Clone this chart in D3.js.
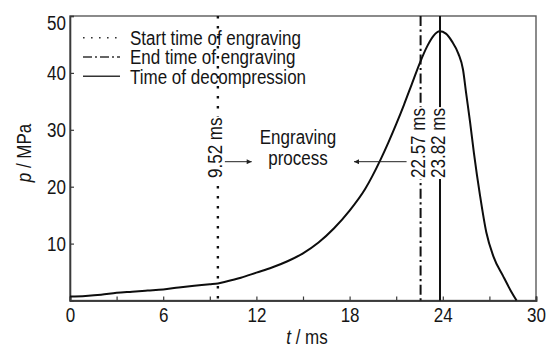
<!DOCTYPE html>
<html><head><meta charset="utf-8">
<script src="https://cdn.jsdelivr.net/npm/d3@7"></script>
<style>
body{margin:0;background:#fff}
svg text{font-family:"Liberation Sans",Arial,Helvetica,sans-serif;font-size:20px;fill:#151515}
</style></head><body>
<svg id="chart" width="547" height="347"></svg>
<script>
// Chamber pressure history p(t) during engraving of the projectile
const timeMs = [0, 1, 2, 3, 4, 5, 6, 7, 8, 9, 9.52, 10, 11, 12, 13, 14, 15, 16, 17, 18, 19, 20, 20.5, 21, 21.5, 22, 22.5, 23, 23.4, 23.8, 24.2, 24.6, 25, 25.3, 25.5, 25.75, 26, 26.4, 26.8, 27.25, 27.9, 28.4, 28.75];
const pressureMPa = [0.7, 0.8, 1.0, 1.35, 1.55, 1.75, 1.95, 2.3, 2.6, 2.85, 3.0, 3.3, 4.0, 4.9, 5.8, 6.9, 8.3, 10.2, 12.7, 15.8, 19.6, 24.8, 27.8, 31.0, 34.4, 38.0, 41.6, 44.7, 46.5, 47.3, 46.9, 45.5, 43.4, 40.6, 36.5, 31.5, 26.0, 18.4, 12.0, 7.8, 4.2, 1.6, 0.0];

const xTicks = [0, 6, 12, 18, 24, 30];
const xMinorTicks = [3, 9, 15, 21, 27];
const yTicks = [10, 20, 30, 40, 50];

const eventTimes = [9.52, 22.57, 23.82];
const eventNames = ["Start time of engraving", "End time of engraving", "Time of decompression"];
const eventLabels = ["9.52 ms", "22.57 ms", "23.82 ms"];
const eventDash = ["2.4 7.6", "10 3.5 2.2 3.5", null];

// condensed lettering: squeeze each text run to a narrow width
const NARROW = 0.85;
function squeeze(sel) {
  sel.each(function () {
    const w = this.getComputedTextLength();
    d3.select(this).attr("textLength", w * NARROW).attr("lengthAdjust", "spacingAndGlyphs");
  });
}

const svg = d3.select("#chart");
const x = d3.scaleLinear().domain([0, 30]).range([70, 536]);
const y = d3.scaleLinear().domain([0, 50]).range([300.5, 16]);

// plot frame
svg.append("rect")
  .attr("x", x(0)).attr("y", y(50))
  .attr("width", x(30) - x(0)).attr("height", y(0) - y(50))
  .attr("fill", "none").attr("stroke", "#5a5a5a").attr("stroke-width", 1.4);

// axes, ticks pointing inward
const xAxis = svg.append("g").attr("transform", `translate(0,${y(0)})`)
  .call(d3.axisBottom(x).tickValues(xTicks).tickSize(-4).tickPadding(7).tickFormat(d3.format("d")));
svg.append("g").attr("transform", `translate(0,${y(0)})`)
  .call(d3.axisBottom(x).tickValues(xMinorTicks).tickSize(-4).tickFormat(""));
const yAxis = svg.append("g").attr("transform", `translate(${x(0)},0)`)
  .call(d3.axisLeft(y).tickValues(yTicks).tickSize(-4).tickPadding(4).tickFormat(d3.format("d")));
svg.selectAll(".domain").attr("stroke", "#3a3a3a").attr("stroke-width", 1.6);
svg.selectAll(".tick line").attr("stroke", "#3a3a3a").attr("stroke-width", 1.2);
svg.selectAll(".tick text").style("font-size", "20px").attr("fill", "#151515");
xAxis.selectAll(".tick text").attr("dy", "0.71em");
// the top label sits just below the frame edge
yAxis.selectAll(".tick text").filter(d => d === 50).attr("dy", "0.66em");
squeeze(svg.selectAll(".tick text"));

// event markers
const events = eventTimes.map((t, i) => ({t, name: eventNames[i], label: eventLabels[i], dash: eventDash[i]}));
const ev = svg.append("g").selectAll("g").data(events).join("g");
ev.append("line")
  .attr("x1", d => x(d.t)).attr("x2", d => x(d.t))
  .attr("y1", y(50)).attr("y2", y(0))
  .attr("stroke", "#111").attr("stroke-width", d => d.dash === eventDash[0] ? 2.4 : 2)
  .attr("stroke-dasharray", d => d.dash);
const lblText = ev.append("text")
  .attr("transform", d => `translate(${x(d.t) + 4.5},178) rotate(-90)`)
  .text(d => d.label);
squeeze(lblText);
lblText.each(function () {
  const b = this.getBBox();
  d3.select(this.parentNode).insert("rect", "text")
    .attr("transform", d3.select(this).attr("transform"))
    .attr("x", b.x - 1).attr("y", b.y + 1)
    .attr("width", b.width + 2).attr("height", b.height - 3)
    .attr("fill", "#fff");
});

// pressure curve
const pts = timeMs.map((t, i) => [t, pressureMPa[i]]);
svg.append("path")
  .attr("d", d3.line().x(d => x(d[0])).y(d => y(d[1])).curve(d3.curveMonotoneX)(pts))
  .attr("fill", "none").attr("stroke", "#0d0d0d").attr("stroke-width", 2)
  .attr("stroke-linejoin", "round");

// engraving process annotation
const defs = svg.append("defs");
defs.append("marker").attr("id", "head").attr("viewBox", "0 0 10 10")
  .attr("refX", 10).attr("refY", 5).attr("markerWidth", 7).attr("markerHeight", 5)
  .attr("markerUnits", "userSpaceOnUse").attr("orient", "auto")
  .append("path").attr("d", "M0,0L10,5L0,10Z").attr("fill", "#222");
const arrowY = 161.7;
svg.append("line").attr("x1", x(eventTimes[0]) + 7).attr("x2", 251.7)
  .attr("y1", arrowY).attr("y2", arrowY)
  .attr("stroke", "#222").attr("stroke-width", 1).attr("marker-end", "url(#head)");
svg.append("line").attr("x1", x(eventTimes[1]) - 14).attr("x2", 354)
  .attr("y1", arrowY).attr("y2", arrowY)
  .attr("stroke", "#222").attr("stroke-width", 1).attr("marker-end", "url(#head)");
const procText = svg.append("g");
procText.append("text").attr("x", 298).attr("y", 144).attr("text-anchor", "middle").text("Engraving");
procText.append("text").attr("x", 298).attr("y", 165).attr("text-anchor", "middle").text("process");
squeeze(procText.selectAll("text"));

// legend
const leg = svg.append("g").selectAll("g").data(events).join("g")
  .attr("transform", (d, i) => `translate(0,${37.8 + i * 19.2})`);
leg.append("line").attr("x1", 83).attr("x2", 120)
  .attr("stroke", "#333").attr("stroke-width", 1.6)
  .attr("stroke-dasharray", (d, i) => i === 0 ? "1.6 6.4" : i === 1 ? "9 3 2 3" : null);
squeeze(leg.append("text").attr("x", 130).attr("y", 7.3).text(d => d.name));

// axis titles
const xt = svg.append("text").attr("x", 307).attr("y", 344).attr("text-anchor", "middle")
  .html('<tspan font-style="italic">t</tspan> / ms');
const yt = svg.append("text").attr("transform", "translate(31,153) rotate(-90)").attr("text-anchor", "middle")
  .html('<tspan font-style="italic">p</tspan> / MPa');
squeeze(xt); squeeze(yt);
</script>
</body></html>
